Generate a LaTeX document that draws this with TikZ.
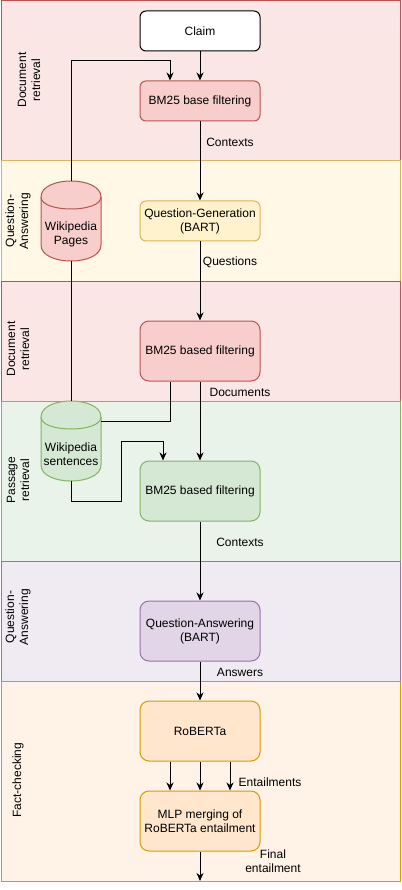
\documentclass[tikz,border=0pt]{standalone}
\usepackage{fontspec}
\setmainfont{Liberation Sans}
\usetikzlibrary{arrows.meta}
\definecolor{redF}{HTML}{F8CECC}\definecolor{redS}{HTML}{B85450}
\definecolor{yelF}{HTML}{FFF2CC}\definecolor{yelS}{HTML}{D6B656}
\definecolor{grnF}{HTML}{D5E8D4}\definecolor{grnS}{HTML}{82B366}
\definecolor{purF}{HTML}{E1D5E7}\definecolor{purS}{HTML}{9673A6}
\definecolor{orgF}{HTML}{FFE6CC}\definecolor{orgS}{HTML}{D79B00}
\tikzset{
  band/.style={line width=1pt},
  bandlabel/.style={rotate=90, align=center, inner sep=0pt},
  box/.style={draw, line width=1pt, align=center, minimum width=120pt, inner sep=0pt},
  small/.style={box, minimum height=40pt, rounded corners=6pt},
  big/.style={box, minimum height=60pt, rounded corners=9pt},
  lbl/.style={align=center, inner sep=0pt},
  conn/.style={line width=1pt},
  arr/.style={conn, -{Stealth[length=8pt,width=7pt,inset=2.5pt]}},
}
\begin{document}
\begin{tikzpicture}[x=1pt, y=-1pt, font=\fontsize{12}{14}\selectfont]
\useasboundingbox (0,0) rectangle (401,890);
% bands
\draw[band, draw=redS, fill=redF!50] (1,1) rectangle (400,161);
\draw[band, draw=yelS, fill=yelF!50] (1,161) rectangle (400,281);
\draw[band, draw=redS, fill=redF!50] (1,281) rectangle (400,401);
\draw[band, draw=grnS, fill=grnF!50] (1,401) rectangle (400,561);
\draw[band, draw=purS, fill=purF!50] (1,561) rectangle (400,681);
\draw[band, draw=orgS, fill=orgF!50] (1,681) rectangle (400,881);
\node[bandlabel] (bl1) at (29,80) {Document\\retrieval};
\node[bandlabel] (bl2) at (18,221) {Question-\\Answering};
\node[bandlabel] (bl3) at (18,349) {Document\\retrieval};
\node[bandlabel] (bl4) at (18,480) {Passage\\retrieval};
\node[bandlabel] (bl5) at (18,617) {Question-\\Answering};
\node[bandlabel] (bl6) at (18,780) {Fact-checking};
% cylinders
\draw[line width=1pt, draw=redS, fill=redF] (41,197) .. controls (41,175.67) and (101,175.67) .. (101,197) -- (101,245) .. controls (101,266.33) and (41,266.33) .. (41,245) -- cycle;
\draw[line width=1pt, draw=redS] (41,197) .. controls (41,213) and (101,213) .. (101,197);
\node[lbl] (wp) at (71,234) {Wikipedia\\Pages};
\coordinate (wpTop) at (71,181);
\coordinate (wpBot) at (71,261);
\draw[line width=1pt, draw=grnS, fill=grnF] (41,417) .. controls (41,395.67) and (101,395.67) .. (101,417) -- (101,465) .. controls (101,486.33) and (41,486.33) .. (41,465) -- cycle;
\draw[line width=1pt, draw=grnS] (41,417) .. controls (41,433) and (101,433) .. (101,417);
\node[lbl] (ws) at (71,454) {Wikipedia\\sentences};
\coordinate (wsTop) at (71,401);
\coordinate (wsRight) at (101,421);
\coordinate (wsBot) at (71,481);
% process nodes
\node[small, fill=white, draw=black] (claim) at (200,31) {Claim};
\node[small, fill=redF, draw=redS] (bm1) at (200,101) {BM25 base filtering};
\node[small, fill=yelF, draw=yelS] (qg) at (200,221) {Question-Generation\\(BART)};
\node[big, fill=redF, draw=redS] (bm2) at (200,351) {BM25 based filtering};
\node[big, fill=grnF, draw=grnS] (bm3) at (200,491) {BM25 based filtering};
\node[big, fill=purF, draw=purS] (qa) at (200,631) {Question-Answering\\(BART)};
\node[big, fill=orgF, draw=orgS] (rob) at (200,731) {RoBERTa};
\node[big, fill=orgF, draw=orgS] (mlp) at (200,821) {MLP merging of\\RoBERTa entailment};
\coordinate (out) at (200,881);
% connectors
\draw[arr] (claim) -- (bm1);
\draw[arr] (wpTop) |- (170,61) -- ([xshift=-30pt]bm1.north);
\draw[arr] (bm1) -- (qg);
\draw[arr] (qg) -- (bm2);
\draw[conn] (wpBot) -- (wsTop);
\draw[arr] (bm2) -- (bm3);
\draw[conn] ([xshift=-30pt]bm2.south) |- (wsRight);
\draw[arr] (wsBot) |- (121,501) |- (163,441) -- ([xshift=-37pt]bm3.north);
\draw[arr] (bm3) -- (qa);
\draw[arr] (qa) -- (rob);
\draw[arr] ([xshift=-30pt]rob.south) -- ([xshift=-30pt]mlp.north);
\draw[arr] (rob) -- (mlp);
\draw[arr] ([xshift=30pt]rob.south) -- ([xshift=30pt]mlp.north);
\draw[arr] (mlp) -- (out);
% edge labels
\node[lbl] (l1) at (230,142) {Contexts};
\node[lbl] (l2) at (230,262) {Questions};
\node[lbl] (l3) at (240,392) {Documents};
\node[lbl] (l4) at (240,542) {Contexts};
\node[lbl] (l5) at (240,672) {Answers};
\node[lbl] (l6) at (270,782) {Entailments};
\node[lbl] (l7) at (273,861) {Final\\entailment};
\end{tikzpicture}
\end{document}
